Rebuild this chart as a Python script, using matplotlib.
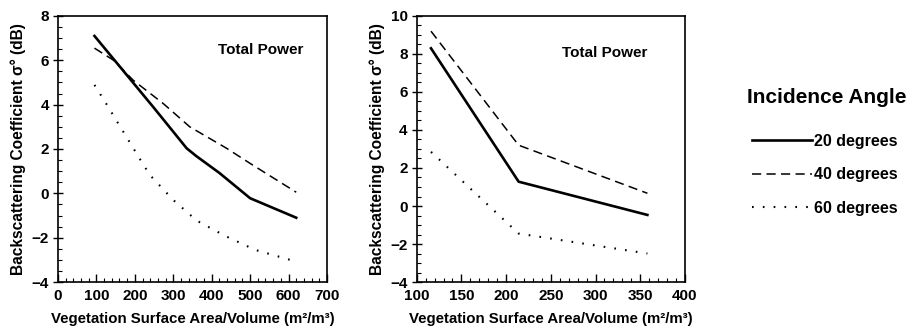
import numpy as np
import matplotlib
matplotlib.use("Agg")
import matplotlib.pyplot as plt
from matplotlib.ticker import MultipleLocator

plt.rcParams["font.family"] = ["Liberation Sans", "DejaVu Sans"]
plt.rcParams["font.weight"] = "bold"

# left panel data (surface area / volume, dB)
left_x20 = [95, 250, 335, 360, 420, 500, 620]
left_y20 = [7.1, 3.85, 2.03, 1.68, 0.92, -0.22, -1.1]
left_x40 = [95, 145, 196, 274, 343, 439, 500, 620]
left_y40 = [6.55, 6.0, 5.1, 4.05, 3.0, 2.03, 1.35, 0.05]
left_x60 = [95, 125, 154, 183, 212, 239, 300, 361, 435, 513, 620]
left_y60 = [4.89, 4.06, 3.23, 2.41, 1.58, 0.83, -0.3, -1.23, -1.92, -2.55, -3.08]

# right panel data
right_x = [116, 214, 358]
right_y20 = [8.3, 1.28, -0.47]
right_y40 = [9.2, 3.2, 0.67]
right_y60 = [2.85, -1.45, -2.5]

labels = ["20 degrees", "40 degrees", "60 degrees"]

fig = plt.figure(figsize=(9.1, 3.27), dpi=100)
ax1 = fig.add_axes([0.0637, 0.1376, 0.2956, 0.8135])
ax2 = fig.add_axes([0.4579, 0.1376, 0.2948, 0.8135])

solid = dict(color="black", lw=1.9, ls="-")
dashed = dict(color="black", lw=1.1, ls=(0, (6, 3.5)))
dotted = dict(color="black", lw=1.5, ls=(0, (0.8, 4.4)))

l1, = ax1.plot(left_x20, left_y20, **solid)
l2, = ax1.plot(left_x40, left_y40, **dashed)
l3, = ax1.plot(left_x60, left_y60, **dotted)

ax2.plot(right_x, right_y20, **solid)
ax2.plot(right_x, right_y40, **dashed)
ax2.plot(right_x, right_y60, **dotted)

ax1.set_xlim(0, 700)
ax1.set_ylim(-4, 8)
ax1.xaxis.set_major_locator(MultipleLocator(100))
ax1.xaxis.set_minor_locator(MultipleLocator(20))

ax2.set_xlim(100, 400)
ax2.set_ylim(-4, 10)
ax2.xaxis.set_major_locator(MultipleLocator(50))
ax2.xaxis.set_minor_locator(MultipleLocator(10))

for ax in (ax1, ax2):
    ax.yaxis.set_major_locator(MultipleLocator(2))
    ax.yaxis.set_minor_locator(MultipleLocator(0.5))
    ax.tick_params(axis="x", which="major", direction="in", length=6, width=1, labelsize=11, pad=5)
    ax.tick_params(axis="x", which="minor", direction="in", length=3, width=0.8)
    ax.tick_params(axis="y", which="major", direction="inout", length=7, width=1, labelsize=11, pad=3)
    ax.tick_params(axis="y", which="minor", direction="in", length=3, width=0.8)
    for s in ax.spines.values():
        s.set_linewidth(1.2)
    ax.set_xlabel("Vegetation Surface Area/Volume (m²/m³)", fontsize=10.8, fontweight="bold")
    ax.set_ylabel("Backscattering Coefficient σ° (dB)", fontsize=11.2, fontweight="bold")
    ax.xaxis.set_label_coords(0.5, -0.112)
    ax.yaxis.set_label_coords(-0.117, 0.5)

ax1.text(0.595, 0.872, "Total Power", transform=ax1.transAxes, fontsize=11,
         fontweight="bold", va="center", ha="left")
ax2.text(0.54, 0.86, "Total Power", transform=ax2.transAxes, fontsize=11,
         fontweight="bold", va="center", ha="left")

fig.text(0.908, 0.703, "Incidence Angle", fontsize=15, fontweight="bold",
         ha="center", va="center")
leg = fig.legend([l1, l2, l3], labels, loc="upper left",
                 bbox_to_anchor=(0.8174, 0.615), frameon=False, fontsize=11.5,
                 borderpad=0, handlelength=3.75, handletextpad=0.12, labelspacing=1.16)

plt.savefig("out.png", dpi=100)
